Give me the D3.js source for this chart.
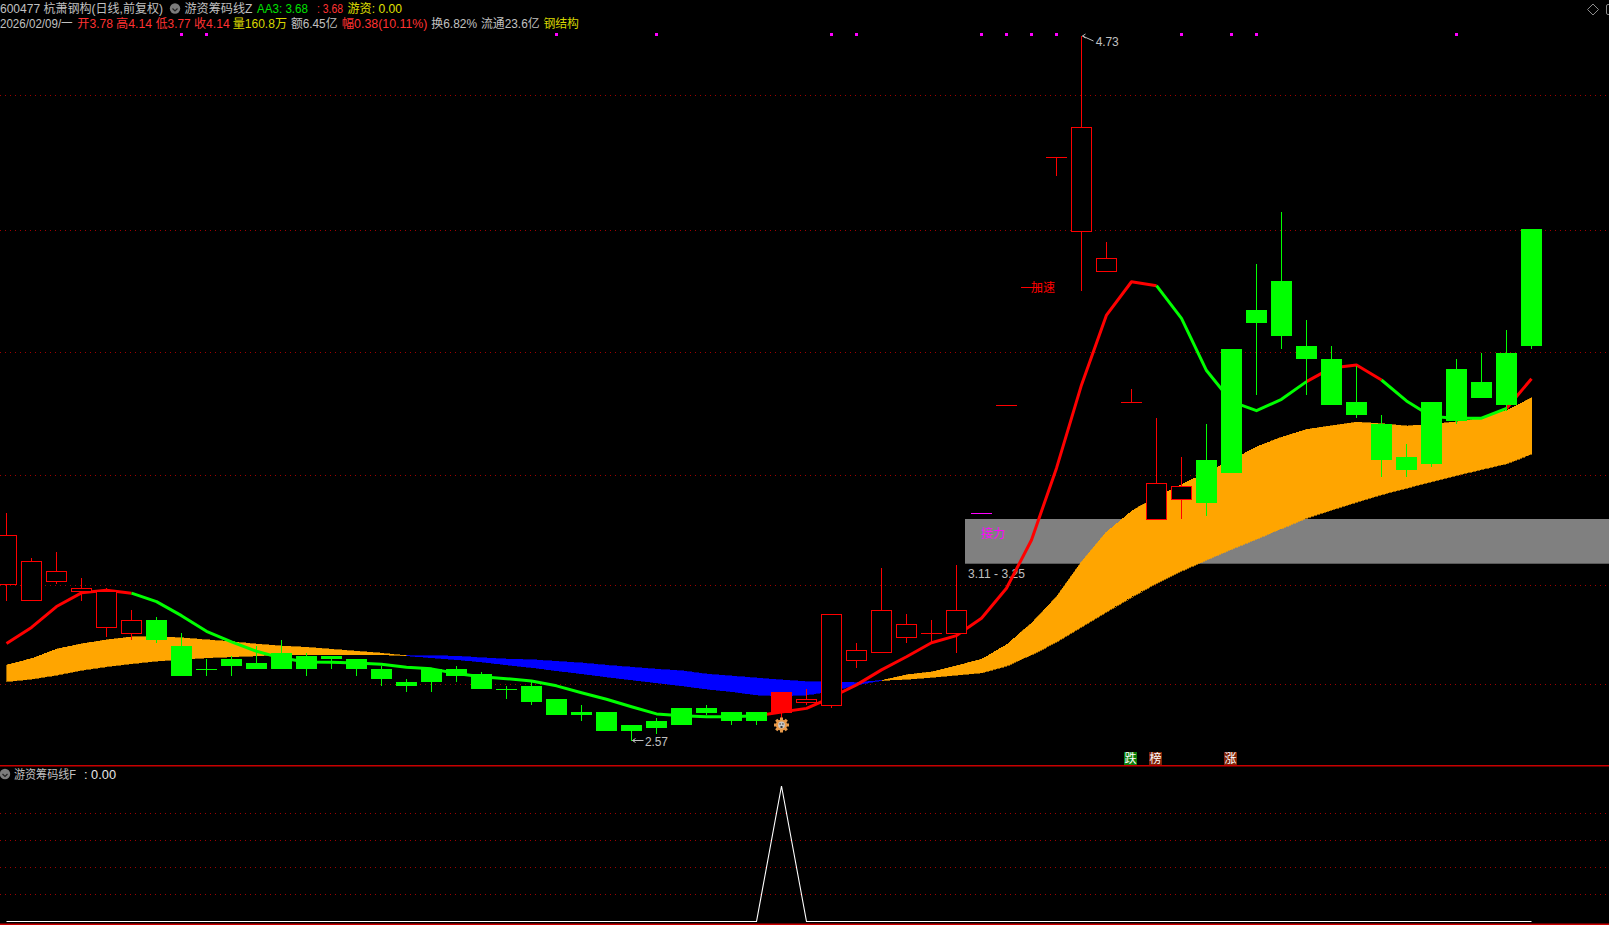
<!DOCTYPE html>
<html><head><meta charset="utf-8">
<style>html,body{margin:0;padding:0;background:#000;overflow:hidden}svg{display:block}
text{font-family:"Liberation Sans","Noto Sans CJK SC",sans-serif;font-size:12px}</style>
<script src="https://cdn.jsdelivr.net/npm/d3@7/dist/d3.min.js"></script></head>
<body><svg id="c" width="1609" height="925"></svg>
<script>
const highs=[3.27,3.13,3.15,3.07,3.04,2.97,2.95,2.90,2.82,2.83,2.86,2.88,2.84,2.83,2.82,2.80,2.76,2.79,2.80,2.78,2.74,2.75,2.70,2.68,2.66,2.62,2.64,2.67,2.68,2.66,2.66,2.72,2.73,2.96,2.87,3.10,2.96,2.94,3.11,3.27,3.60,3.96,4.36,4.73,4.10,3.65,3.56,3.44,3.54,3.77,4.03,4.19,3.86,3.78,3.72,3.57,3.48,3.61,3.74,3.76,3.83,4.14];
const bodyTop=[3.20,3.12,3.09,3.04,3.03,2.94,2.94,2.86,2.79,2.82,2.81,2.84,2.83,2.83,2.82,2.79,2.75,2.79,2.79,2.775,2.73,2.74,2.70,2.66,2.66,2.62,2.63,2.67,2.67,2.66,2.66,2.72,2.70,2.96,2.85,2.97,2.93,2.90,2.97,3.27,3.60,3.96,4.36,4.45,4.05,3.61,3.36,3.35,3.43,3.77,3.89,3.98,3.78,3.74,3.61,3.54,3.44,3.61,3.71,3.67,3.76,4.14];
const bodyBottom=[3.05,3.00,3.06,3.03,2.92,2.90,2.88,2.77,2.79,2.80,2.79,2.79,2.79,2.82,2.79,2.76,2.74,2.75,2.77,2.73,2.73,2.69,2.65,2.65,2.60,2.60,2.61,2.62,2.655,2.63,2.63,2.655,2.69,2.68,2.82,2.84,2.89,2.90,2.90,3.27,3.60,3.96,4.36,4.13,4.01,3.61,3.25,3.31,3.30,3.39,3.85,3.81,3.74,3.60,3.57,3.43,3.40,3.42,3.55,3.62,3.60,3.78];
const lows=[3.00,3.00,3.05,3.00,2.89,2.88,2.87,2.77,2.77,2.77,2.79,2.79,2.77,2.79,2.77,2.74,2.72,2.72,2.75,2.73,2.70,2.68,2.65,2.63,2.60,2.57,2.59,2.62,2.65,2.62,2.62,2.64,2.68,2.67,2.795,2.84,2.87,2.87,2.84,3.27,3.60,3.96,4.30,3.95,4.01,3.61,3.25,3.25,3.26,3.39,3.63,3.77,3.63,3.60,3.56,3.38,3.38,3.41,3.54,3.62,3.58,3.77];
const candleKinds="rrrrrrggggggggggggggggggggggggg" + "srrrrrrrmrrrrrrrr" + "gggggggggggggg";
const boldCandles=[46,47];
const bandFast=[2.803,2.823,2.852,2.868,2.880,2.889,2.890,2.886,2.880,2.874,2.867,2.861,2.857,2.851,2.845,2.839,2.831,2.825,2.819,2.812,2.803,2.795,2.785,2.776,2.766,2.757,2.748,2.739,2.729,2.721,2.711,2.708,2.711,2.723,2.742,2.756,2.773,2.782,2.801,2.821,2.866,2.931,3.012,3.119,3.211,3.275,3.318,3.356,3.394,3.431,3.472,3.501,3.525,3.536,3.547,3.542,3.535,3.541,3.548,3.559,3.584,3.621];
const bandSlow=[2.752,2.760,2.772,2.787,2.798,2.807,2.815,2.820,2.825,2.828,2.831,2.834,2.835,2.835,2.834,2.834,2.832,2.831,2.830,2.825,2.821,2.819,2.814,2.809,2.802,2.796,2.790,2.785,2.775,2.769,2.763,2.757,2.752,2.751,2.749,2.756,2.759,2.765,2.772,2.779,2.800,2.834,2.874,2.920,2.966,3.011,3.054,3.091,3.125,3.158,3.189,3.221,3.253,3.278,3.302,3.325,3.345,3.365,3.384,3.402,3.420,3.449];
const aa3=[2.869,2.918,2.982,3.024,3.032,3.023,2.997,2.954,2.906,2.874,2.845,2.824,2.812,2.811,2.809,2.805,2.796,2.791,2.777,2.767,2.761,2.754,2.739,2.718,2.698,2.675,2.653,2.647,2.644,2.644,2.647,2.659,2.670,2.704,2.742,2.788,2.828,2.871,2.893,2.946,3.038,3.186,3.406,3.661,3.875,3.977,3.965,3.865,3.705,3.610,3.582,3.617,3.671,3.713,3.722,3.676,3.612,3.564,3.559,3.559,3.589,3.680];
const aa3Segments=[[0,5,"#ff0000"],[5,30,"#00ff00"],[30,46,"#ff0000"],[46,52,"#00ff00"],[52,55,"#ff0000"],[55,60,"#00ff00"],[60,61,"#ff0000"]];
const bandSegments=[[0,16,"#ffa500"],[16,35,"#0000ff"],[35,61,"#ffa500"]];
const gridPrices=[4.548,4.135,3.761,3.384,3.047,2.744];
const subGrid=[0.2,0.4,0.6,0.8];
const subPeak=31;
const subValues=highs.map((_,i)=>i===subPeak?1:0);
const signalDots=[7,8,22,26,33,34,39,40,41,42,47,49,50,58];
const zoneLow=3.11, zoneHigh=3.25, zoneStart=38.34;
const badges=[[45,"跌","#0a7d0a"],[46,"榜","#7d2208"],[49,"涨","#7d2208"]];
const headerLine1=[[0,163,"600477 杭萧钢构(日线,前复权)","#c0c0c0"],[184.5,68,"游资筹码线Z","#c0c0c0"],[257,51,"AA3: 3.68","#00e000"],[317,26,": 3.68","#ff3232"],[347.5,54.5,"游资: 0.00","#e0e000"]];
const headerLine2=[[0,72.7,"2026/02/09/一","#c0c0c0"],[77.3,35.7,"开3.78","#ff3232"],[116,36,"高4.14","#ff3232"],[155.8,34.8,"低3.77","#ff3232"],[194,35.6,"收4.14","#ff3232"],[232.7,54.3,"量160.8万","#d8d800"],[290.9,46.6,"额6.45亿","#c0c0c0"],[341.7,85.8,"幅0.38(10.11%)","#ff3232"],[431.3,45.7,"换6.82%","#c0c0c0"],[481,58.6,"流通23.6亿","#c0c0c0"],[543.4,35.6,"钢结构","#d8d800"]];

const svg=d3.select("#c");
const x=d3.scaleLinear().domain([0,61]).range([6.5,1531.5]);
const y=d3.scaleLinear().domain([2.57,4.73]).range([741,36]);
const subY=d3.scaleLinear().domain([0,1]).range([921.5,786]);
const W=1609;
const idx=d3.range(highs.length);
svg.append("rect").attr("width",W).attr("height",925).attr("fill","#000");

// grid
const hline=(g,v,sc)=>g.append("line").attr("x1",0).attr("x2",W).attr("y1",Math.round(sc(v))+.5).attr("y2",Math.round(sc(v))+.5)
  .attr("stroke","#a00000").attr("stroke-dasharray","1 4").attr("shape-rendering","crispEdges");
const gGrid=svg.append("g");
gridPrices.forEach(p=>hline(gGrid,p,y));
subGrid.forEach(p=>hline(gGrid,p,subY));

// relay zone
const zoneX=x(zoneStart);
svg.append("rect").attr("x",zoneX).attr("width",W-zoneX).attr("y",519).attr("height",44.7).attr("fill","#808080");
svg.append("text").attr("x",968).attr("y",578).attr("fill","#c0c0c0").attr("textLength",57).text(zoneLow.toFixed(2)+" - "+zoneHigh.toFixed(2));
svg.append("text").attr("x",981).attr("y",537.5).attr("fill","#ff00ff").text("接力");

// band
const area=d3.area().x(i=>x(i)).y0(i=>y(bandFast[i])).y1(i=>y(bandSlow[i]));
bandSegments.forEach(([a,b,c])=>svg.append("path").attr("d",area(d3.range(a,b+1))).attr("fill",c).attr("stroke",c).attr("stroke-width",.6).attr("shape-rendering","crispEdges"));

// aa3 line
const ln=d3.line().x(i=>x(i)).y(i=>y(aa3[i]));
aa3Segments.forEach(([a,b,c])=>svg.append("path").attr("d",ln(d3.range(a,b+1))).attr("fill","none").attr("stroke",c).attr("stroke-width",3).attr("stroke-linejoin","round"));

// candles
const colorOf={r:"#ff0000",s:"#ff0000",g:"#00ff00",m:"#ff00ff"};
const g=svg.append("g").attr("shape-rendering","crispEdges");
idx.forEach(i=>{
  const k=candleKinds[i],c=colorOf[k],cx=x(i);
  const yH=y(highs[i]),yL=y(lows[i]),yT=y(bodyTop[i]),yB=y(bodyBottom[i]);
  g.append("line").attr("x1",cx).attr("x2",cx).attr("y1",yH).attr("y2",yL).attr("stroke",c);
  if(yB-yT<1.5){
    g.append("line").attr("x1",cx-10.5).attr("x2",cx+10.5).attr("y1",Math.round(yT)+.5).attr("y2",Math.round(yT)+.5).attr("stroke",c);
  } else if(k==="g"||k==="s"){
    g.append("rect").attr("x",cx-10.5).attr("width",21).attr("y",yT).attr("height",yB-yT).attr("fill",c);
  } else {
    g.append("rect").attr("x",cx-10).attr("width",20).attr("y",Math.round(yT)+.5).attr("height",Math.round(yB-yT)).attr("fill","#000").attr("stroke",c)
      .attr("stroke-width",boldCandles.includes(i)?1.5:1);
  }
});

// signal dots
g.selectAll(".dot").data(signalDots).join("rect").attr("x",i=>x(i)-1.5).attr("y",33).attr("width",3).attr("height",3).attr("fill","#ff00ff");

// labels
const lab="#c0c0c0";
svg.append("text").attr("x",1095.7).attr("y",46).attr("fill",lab).attr("textLength",23).text(highs[43].toFixed(2));
svg.append("path").attr("d",`M${x(43)+1},${y(4.73)} l11,5 M${x(43)+1},${y(4.73)} l3,-2 M${x(43)+1},${y(4.73)} l3,2`).attr("stroke",lab).attr("fill","none");
svg.append("text").attr("x",645).attr("y",745.5).attr("fill",lab).attr("textLength",23).text(lows[25].toFixed(2));
svg.append("path").attr("d",`M${x(25)+1},${y(2.57)-.5} h11 M${x(25)+1},${y(2.57)-.5} l3,-2 M${x(25)+1},${y(2.57)-.5} l3,2`).attr("stroke",lab).attr("fill","none");
svg.append("text").attr("x",1031).attr("y",291.5).attr("fill","#ff0000").text("加速");

// icon under candle 31
const ic=svg.append("g").attr("transform",`translate(${x(31)},725)`);
d3.range(8).forEach(a=>ic.append("rect").attr("x",-1.5).attr("y",-7.5).attr("width",3).attr("height",3).attr("fill","#e89a4a").attr("transform",`rotate(${a*45})`));
ic.append("circle").attr("r",5.6).attr("fill","#e89a4a");
ic.append("circle").attr("r",3.4).attr("fill","#c8c8c8");
ic.append("circle").attr("cx",-1.4).attr("cy",-1).attr("r",.8).attr("fill","#333");
ic.append("circle").attr("cx",1.4).attr("cy",-1).attr("r",.8).attr("fill","#333");
ic.append("rect").attr("x",-1).attr("y",1).attr("width",2).attr("height",2).attr("fill","#333");

// badges
badges.forEach(([i,t,c])=>{
  const left=x(i)-7.5;
  svg.append("rect").attr("x",left).attr("y",752).attr("width",13).attr("height",13).attr("fill",c);
  svg.append("text").attr("x",left+.5).attr("y",763).attr("fill","#fff").text(t);
});

// panel separators
svg.append("rect").attr("x",0).attr("y",765).attr("width",W).attr("height",1.5).attr("fill","#c80000");
svg.append("rect").attr("x",0).attr("y",923.5).attr("width",W).attr("height",1.5).attr("fill","#c80000");

// sub panel line
svg.append("path").attr("d",d3.line().x(i=>x(i)).y(i=>subY(subValues[i]))(idx)).attr("fill","none").attr("stroke","#fff").attr("stroke-width",1.1);

// smile icons and titles
const smile=(cx,cy)=>{const s=svg.append("g");s.append("circle").attr("cx",cx).attr("cy",cy).attr("r",5.2).attr("fill","#7c7c7c");
  s.append("path").attr("d",`M${cx-2.5},${cy} l2.5,2.5 l2.5,-2.5`).attr("fill","none").attr("stroke","#222").attr("stroke-width",1.2);};
smile(175,8.5); smile(5,774);
const put=(arr,yy)=>arr.forEach(([xx,w,t,c])=>svg.append("text").attr("x",xx).attr("y",yy).attr("fill",c).attr("textLength",w).attr("lengthAdjust","spacingAndGlyphs").text(t));
put(headerLine1,13);
put(headerLine2,27.5);
put([[14,62,"游资筹码线F","#c0c0c0"],[84,32,": 0.00","#e8e8e8"]],779);

// top right marks
svg.append("path").attr("d","M1593,4 l5.5,5.5 l-5.5,5.5 l-5.5,-5.5 Z").attr("fill","none").attr("stroke","#8c8c8c");
svg.append("rect").attr("x",1606.5).attr("y",4.5).attr("width",6).attr("height",10).attr("rx",1.5).attr("fill","none").attr("stroke","#8c8c8c");
</script></body></html>
